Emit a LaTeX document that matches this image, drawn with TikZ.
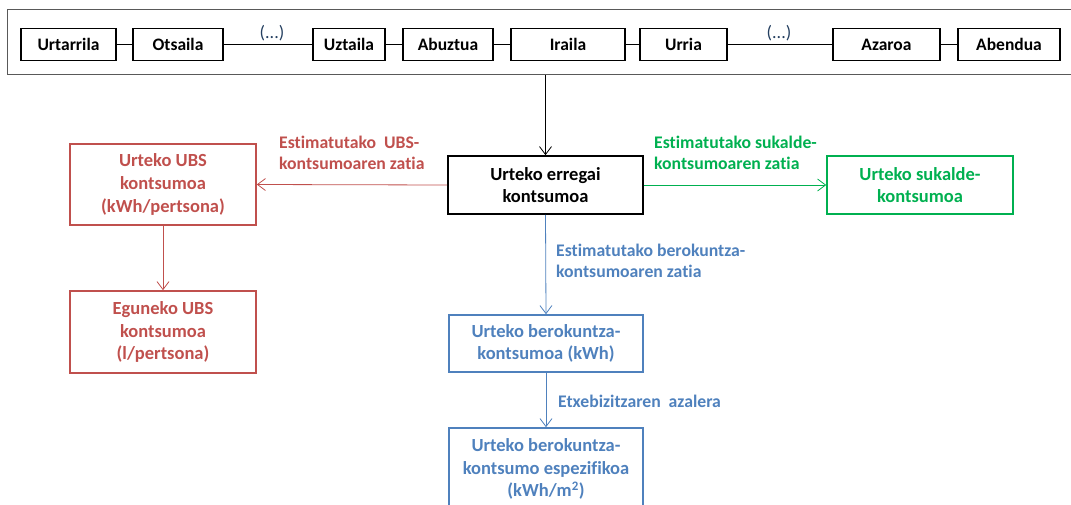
\documentclass[tikz,border=0pt]{standalone}
\usepackage{fontspec}
\setmainfont{Carlito}[Ligatures=NoCommon]
\usetikzlibrary{arrows.meta}
\definecolor{cred}{HTML}{C0504D}
\definecolor{cgreen}{HTML}{00B050}
\definecolor{cblue}{HTML}{4F81BD}
\definecolor{cframe}{HTML}{595959}
\definecolor{cdots}{HTML}{243F60}
\tikzset{
  txt/.style={font=\bfseries\fontsize{18.5}{22.8}\selectfont},
  month/.style={font=\bfseries\fontsize{17.5}{22}\selectfont, draw=black, line width=1.6pt, minimum height=32pt, inner sep=0pt},
  bigbox/.style={txt, draw, line width=1.6pt, align=center, inner sep=0pt},
  lbl/.style={font=\bfseries\fontsize{17.7}{21.5}\selectfont, align=left, inner sep=0pt, anchor=west},
  tip/.style={-{Straight Barb[length=8pt,width=12pt]}, line width=0.8pt},
}
\begin{document}
\begin{tikzpicture}[x=1pt,y=-1pt]
\useasboundingbox (0,0) rectangle (1071,504);
% frame
\node[draw=cframe, line width=1.3pt, minimum width=1072.5pt, minimum height=65pt, inner sep=0pt] (frame) at (543.75,42) {};
% months
\node[month, minimum width=95pt]  (m1) at (68.5,44.5) {Urtarrila};
\node[month, minimum width=90pt]  (m2) at (178,44.5) {Otsaila};
\node[month, minimum width=72pt]  (m7) at (349,44.5) {Uztaila};
\node[month, minimum width=90pt]  (m8) at (448,44.5) {Abuztua};
\node[month, minimum width=114pt] (m9) at (568,44.5) {Iraila};
\node[month, minimum width=87pt]  (m10) at (683.5,44.5) {Urria};
\node[month, minimum width=107pt] (m11) at (886.5,44.5) {Azaroa};
\node[month, minimum width=102pt] (m12) at (1009,44.5) {Abendua};
\draw[line width=1pt] (m1) -- (m2);
\draw[line width=1.6pt] (m2) -- (m7);
\draw[line width=1pt] (m7) -- (m8);
\draw[line width=1pt] (m8) -- (m9);
\draw[line width=1pt] (m9) -- (m10);
\draw[line width=1pt] (m10) -- (m11);
\draw[line width=1pt] (m11) -- (m12);
\node[text=cdots, font=\fontsize{18}{22}\selectfont, inner sep=0pt] (d1) at (272,33) {(...)};
\node[text=cdots, font=\fontsize{18}{22}\selectfont, inner sep=0pt] (d2) at (779,33) {(...)};
% main boxes
\node[bigbox, draw=black, minimum width=195pt, minimum height=58pt] (ctr) at (545.5,185) {Urteko erregai\\kontsumoa};
\node[bigbox, draw=cred, text=cred, minimum width=186pt, minimum height=81pt] (ubs) at (163,184.5) {Urteko UBS\\kontsumoa\\(kWh/pertsona)};
\node[bigbox, draw=cred, text=cred, minimum width=186pt, minimum height=82pt] (eg) at (163,332) {Eguneko UBS\\kontsumoa\\(l/pertsona)};
\node[bigbox, draw=cgreen, text=cgreen, minimum width=186pt, minimum height=58pt] (grn) at (920,185) {Urteko sukalde-\\kontsumoa};
\node[bigbox, draw=cblue, text=cblue, minimum width=194pt, minimum height=57pt] (b1) at (546,343.5) {Urteko berokuntza-\\kontsumoa (kWh)};
\node[bigbox, draw=cblue, text=cblue, minimum width=194pt, minimum height=82pt] (b2) at (546,469) {Urteko berokuntza-\\kontsumo espezifikoa\\(kWh/m\textsuperscript{2})};
% connectors
\draw[tip, black] (frame.south -| ctr.north) -- (ctr.north);
\draw[tip, cred] (ctr.west) -- (ubs.east);
\draw[tip, cred] (ubs.south) -- (eg.north);
\draw[tip, cgreen] (ctr.east) -- (grn.west);
\draw[tip, cblue] (ctr.south) -- (b1.north);
\draw[tip, cblue] (b1.south) -- (b2.north);
% labels
\node[lbl, text=cred] (l1) at (279,153) {Estimatutako\ \ UBS-\\kontsumoaren zatia};
\node[lbl, text=cgreen] (l2) at (654,153) {Estimatutako sukalde-\\kontsumoaren zatia};
\node[lbl, text=cblue] (l3) at (556,261) {Estimatutako berokuntza-\\kontsumoaren zatia};
\node[lbl, text=cblue] (l4) at (558,401) {Etxebizitzaren\ \ azalera};
\end{tikzpicture}
\end{document}
